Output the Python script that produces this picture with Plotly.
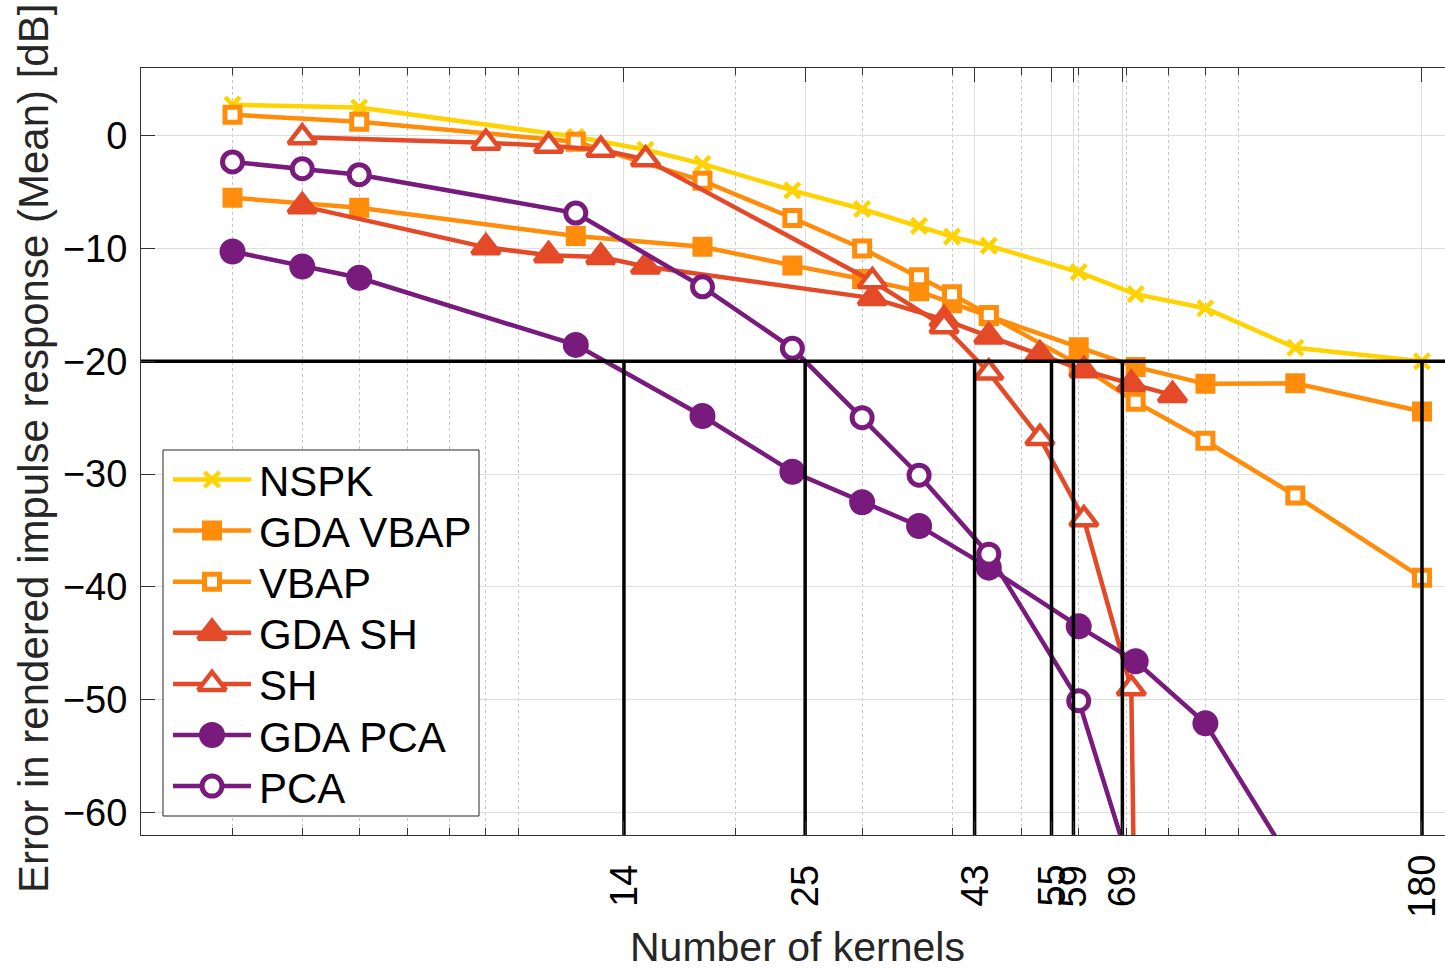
import numpy as np
import plotly.graph_objects as go

# ---------------- data ----------------
n_nspk = [4, 6, 12, 15, 18, 24, 30, 36, 40, 45, 60, 72, 90, 120, 180]
err_nspk = [2.75, 2.5, -0.1, -1.25, -2.5, -4.85, -6.5, -8.0, -8.95, -9.75,
            -12.1, -14.05, -15.3, -18.8, -20.0]

n_vbap = [4, 6, 12, 18, 24, 30, 36, 40, 45, 60, 72, 90, 120, 180]
err_gda_vbap = [-5.5, -6.4, -8.9, -9.85, -11.5, -12.7, -13.8, -14.85, -16.0,
                -18.75, -20.5, -22.0, -21.95, -24.45]
err_vbap = [1.86, 1.24, -0.53, -4.0, -7.3, -10.0, -12.55, -14.05, -15.9,
            -20.3, -23.6, -27.05, -31.9, -39.2]

n_sh = [5, 9, 11, 13, 15, 31, 39, 45, 53, 61, 71, 81]
err_gda_sh = [-6.25, -9.9, -10.6, -10.75, -11.6, -14.4, -16.3, -17.8, -19.4,
              -20.8, -22.0, -23.0]
err_sh = [-0.15, -0.62, -0.9, -1.25, -2.1, -12.9, -16.9, -21.0, -26.8,
          -34.0, -49.0, -310.0]

n_pca = [4, 5, 6, 12, 18, 24, 30, 36, 45, 60, 72, 90, 120]
err_gda_pca = [-10.27, -11.6, -12.6, -18.55, -24.85, -29.8, -32.5, -34.6,
               -38.3, -43.5, -46.6, -52.1, -65.0]
err_pca = [-2.33, -2.93, -3.46, -6.86, -13.4, -18.85, -25.0, -30.1, -37.1,
           -50.1, -66.4]

# kernel counts where each curve reaches the -20 dB threshold
threshold_db = -20
crossings = [14, 25, 43, 55, 59, 69, 180]

y_ticks = [-60, -50, -40, -30, -20, -10, 0]
minor_x = [4, 5, 6, 7, 8, 9, 10, 20, 30, 40, 50, 60, 70, 80, 90, 100]

# ---------------- styles ----------------
YELLOW = "#FFD302"
ORANGE = "#FF8C0B"
RED = "#E44A28"
PURPLE = "#791A7D"
FONT = "Liberation Sans, Arial, Helvetica, sans-serif"
LW = 4.5

series = [
    ("NSPK", n_nspk, err_nspk, YELLOW,
     dict(symbol="x-thin", size=15, color=YELLOW, line=dict(color=YELLOW, width=4.5))),
    ("GDA VBAP", n_vbap, err_gda_vbap, ORANGE,
     dict(symbol="square", size=15, color=ORANGE, line=dict(color=ORANGE, width=5))),
    ("VBAP", n_vbap, err_vbap, ORANGE,
     dict(symbol="square", size=15, color="white", line=dict(color=ORANGE, width=5))),
    ("GDA SH", n_sh, err_gda_sh, RED,
     dict(symbol="triangle-up", size=24, color=RED, line=dict(color=RED, width=4.5))),
    ("SH", n_sh, err_sh, RED,
     dict(symbol="triangle-up", size=24, color="white", line=dict(color=RED, width=4.5))),
    ("GDA PCA", n_pca, err_gda_pca, PURPLE,
     dict(symbol="circle", size=21, color=PURPLE, line=dict(color=PURPLE, width=5))),
    ("PCA", n_pca[:len(err_pca)], err_pca, PURPLE,
     dict(symbol="circle", size=20, color="white", line=dict(color=PURPLE, width=5))),
]

# ---------------- figure geometry (pixels) ----------------
W, H = 1445, 970
L, R, T, B = 141, 0, 68, 135
plot_w = W - L - R
plot_h = H - T - B
px_per_decade = 719.5
x_lo = np.log10(4) - 91.5 / px_per_decade
x_hi = x_lo + plot_w / px_per_decade
y_lo, y_hi = -62, 6

fig = go.Figure()

for name, xs, ys, col, mk in series:
    fig.add_trace(go.Scatter(
        x=xs, y=ys, mode="lines+markers", name=name,
        line=dict(color=col, width=LW), marker=mk, showlegend=False,
    ))

# -20 dB threshold and the vertical drop lines at the crossings
fig.add_trace(go.Scatter(
    x=[10 ** x_lo, 10 ** x_hi], y=[threshold_db, threshold_db], mode="lines",
    line=dict(color="black", width=3.5), showlegend=False,
))
vx, vy = [], []
for c in crossings:
    vx += [c, c, None]
    vy += [threshold_db, y_lo, None]
fig.add_trace(go.Scatter(
    x=vx, y=vy, mode="lines", line=dict(color="black", width=3.5),
    showlegend=False,
))

# ---------------- legend (drawn on a pixel-space overlay) ----------------
box_x0, box_x1, box_y0, box_y1 = 163, 479, 450, 816
fig.add_trace(go.Scatter(
    x=[box_x0, box_x1, box_x1, box_x0, box_x0],
    y=[box_y0, box_y0, box_y1, box_y1, box_y0],
    mode="lines", fill="toself", fillcolor="white",
    line=dict(color="#262626", width=1),
    xaxis="x2", yaxis="y2", showlegend=False, hoverinfo="skip",
))
row0, row_step = 479.5, 51.1
seg_x0, seg_x1, mark_x, text_x = 173, 251, 212, 257
for i, (name, xs, ys, col, mk) in enumerate(series):
    ry = row0 + i * row_step
    fig.add_trace(go.Scatter(
        x=[seg_x0, seg_x1], y=[ry, ry], mode="lines",
        line=dict(color=col, width=LW),
        xaxis="x2", yaxis="y2", showlegend=False, hoverinfo="skip",
    ))
    fig.add_trace(go.Scatter(
        x=[mark_x], y=[ry], mode="markers", marker=mk,
        xaxis="x2", yaxis="y2", showlegend=False, hoverinfo="skip",
    ))
    fig.add_annotation(
        x=text_x, y=ry + 2, xref="x2", yref="y2", text=name,
        showarrow=False, xanchor="left", yanchor="middle",
        font=dict(family=FONT, size=42, color="black"),
    )

# rotated x tick labels, centred below the axis
for c in crossings:
    fig.add_annotation(
        x=np.log10(c), y=(835 - 886) / plot_h, xref="x", yref="paper",
        text=str(c), textangle=-90, showarrow=False,
        xanchor="center", yanchor="middle",
        font=dict(family=FONT, size=38, color="black"),
    )

# axis titles
fig.add_annotation(
    x=(797 - L) / plot_w, y=(835 - 947) / plot_h, xref="paper", yref="paper",
    text="Number of kernels", showarrow=False,
    xanchor="center", yanchor="middle",
    font=dict(family=FONT, size=41, color="#262626"),
)
fig.add_annotation(
    x=(33 - L) / plot_w, y=(835 - 449) / plot_h, xref="paper", yref="paper",
    text="Error in rendered impulse response (Mean) [dB]", textangle=-90,
    showarrow=False, xanchor="center", yanchor="middle",
    font=dict(family=FONT, size=42, color="#262626"),
)

AX = "#333333"
fig.update_layout(
    width=W, height=H,
    margin=dict(l=L, r=R, t=T, b=B, pad=0),
    paper_bgcolor="white", plot_bgcolor="white",
    font=dict(family=FONT, size=38, color="black"),
    showlegend=False,
    xaxis=dict(
        type="log", range=[x_lo, x_hi],
        tickmode="array", tickvals=crossings, showticklabels=False,
        ticks="inside", ticklen=14, tickwidth=1, tickcolor=AX,
        showline=True, linecolor=AX, linewidth=1, mirror="allticks",
        showgrid=True, gridcolor="#DEDEDE", gridwidth=1,
        zeroline=False,
        minor=dict(
            tickmode="array", tickvals=minor_x,
            ticks="inside", ticklen=7, tickwidth=1, tickcolor=AX,
            showgrid=True, gridcolor="#C4C4C4", griddash="dot", gridwidth=1,
        ),
    ),
    yaxis=dict(
        range=[y_lo, y_hi],
        tickmode="array", tickvals=y_ticks,
        ticks="inside", ticklen=14, tickwidth=1, tickcolor=AX,
        showline=True, linecolor=AX, linewidth=1, mirror=False,
        showgrid=True, gridcolor="#DEDEDE", gridwidth=1,
        zeroline=False,
        tickfont=dict(family=FONT, size=38, color="black"),
        ticklabelstandoff=5,
    ),
    xaxis2=dict(overlaying="x", range=[L, W - R], visible=False,
                showgrid=False, zeroline=False),
    yaxis2=dict(overlaying="y", range=[H - B, T], visible=False,
                showgrid=False, zeroline=False),
)

fig.write_html("out.html")
